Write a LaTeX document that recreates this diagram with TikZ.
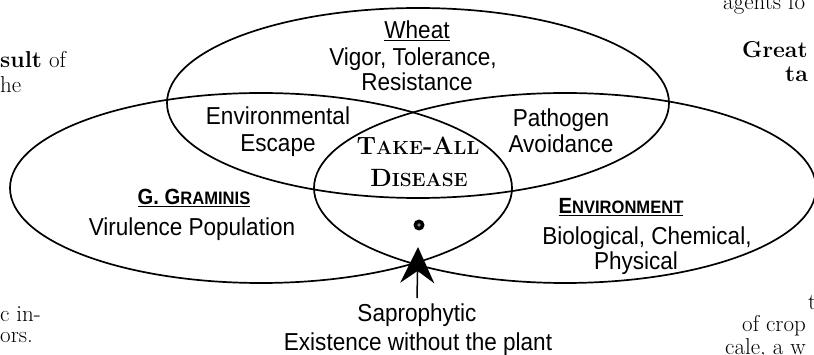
\documentclass[tikz,border=0pt]{standalone}
\usepackage{fontspec}
\newfontfamily\lblfont{Liberation Sans}[FakeStretch=0.92]
\usetikzlibrary{arrows.meta,positioning,shapes.geometric}

\tikzset{
  ring/.style={draw, ellipse, line width=1.7pt, minimum width=502pt, minimum height=190pt, inner sep=0pt},
  lbl/.style={font=\lblfont\fontsize{24.5}{27}\selectfont, inner sep=0pt, anchor=base},
  sc/.style={font=\lblfont\bfseries\fontsize{22}{27}\selectfont, inner sep=0pt, anchor=base},
  disease/.style={font=\bfseries\fontsize{25}{28}\selectfont, inner sep=0pt, anchor=base},
  page/.style={font=\fontsize{23}{26}\selectfont, inner sep=0pt, anchor=base west},
  spot/.style={circle, fill=black, minimum size=11pt, inner sep=0pt},
  sap/.style={line width=1.5pt, -{Stealth[length=36pt, width=34pt, inset=12pt]}},
}

\begin{document}
\begin{tikzpicture}[x=1pt,y=-1pt]
  \useasboundingbox (0,0) rectangle (814,355);
  \clip (0,0) rectangle (814,355);

  % the three circles
  \node[ring] (host) at (418,103) {};
  \node[ring] (pathogen) at (261,188) {};
  \node[ring] (environ) at (565,188) {};

  % wheat
  \node[lbl] (wheat1) at (417,39) {\underline{Wheat}};
  \node[lbl] (wheat2) at (413,66) {Vigor, Tolerance,};
  \node[lbl] (wheat3) at (417,91) {Resistance};

  % overlaps
  \node[lbl] (escape1) at (278,125) {Environmental};
  \node[lbl] (escape2) at (278,152) {Escape};
  \node[lbl] (avoid1) at (561,127) {Pathogen};
  \node[lbl] (avoid2) at (561,153) {Avoidance};
  \node[disease] (takeall1) at (418,155) {T{\fontsize{19}{28}\selectfont AKE}-A{\fontsize{19}{28}\selectfont LL}};
  \node[disease] (takeall2) at (419,187) {D{\fontsize{19}{28}\selectfont ISEASE}};

  % pathogen
  \node[sc] (gg1) at (194,205) {\underline{G. G{\fontsize{18}{27}\selectfont RAMINIS}}};
  \node[lbl] (gg2) at (192,236) {Virulence Population};

  % environment
  \node[sc] (env1) at (621,214) {\underline{E{\fontsize{18}{27}\selectfont NVIRONMENT}}};
  \node[lbl] (env2) at (647,245) {Biological, Chemical,};
  \node[lbl] (env3) at (636,270) {Physical};

  % saprophytic phase
  \node[spot] (dot) at (419,225) {};
  \fill[gray] (dot.center) circle (1.8pt);
  \coordinate (tip) at (418,247);
  \node[lbl] (sapro1) at (417,322) {Saprophytic};
  \node[lbl] (sapro2) at (418,350) {Existence without the plant};
  \draw[sap] ([yshift=6pt]sapro1.north) -- (tip);

  % page text round the figure
  \node[page] (p1) at (0,68) {\textbf{sult} of};
  \node[page] (p2) at (0,93) {he};
  \node[page] (p3) at (723,10) {agents fo};
  \node[page] (p4) at (742,58) {\textbf{Great}};
  \node[page] (p5) at (785,82) {\textbf{ta}};
  \node[page] (p6) at (0,322) {c in-};
  \node[page] (p7) at (0,343) {ors.};
  \node[page] (p8) at (808,310) {t};
  \node[page] (p9) at (742,332) {of crop};
  \node[page] (p10) at (725,355) {cale, a w};
\end{tikzpicture}
\end{document}
